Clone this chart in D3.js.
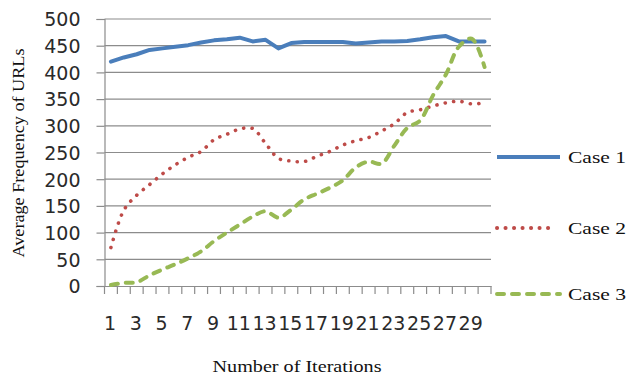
<!DOCTYPE html>
<html>
<head>
<meta charset="utf-8">
<script src="https://cdn.jsdelivr.net/npm/d3@7"></script>
<style>
  body { margin: 0; background: #fff; }
  svg { display: block; }
</style>
</head>
<body>
<script>

// iterations on the x axis
var iterations = [1, 2, 3, 4, 5, 6, 7, 8, 9, 10, 11, 12, 13, 14, 15,
                  16, 17, 18, 19, 20, 21, 22, 23, 24, 25, 26, 27, 28, 29, 30]

// average frequency of URLs
var case1 = [420, 428, 434, 442, 445, 448, 451, 456, 460, 462, 465, 458, 461, 445, 455,
             457, 457, 457, 457, 454, 456, 458, 458, 459, 462, 466, 468, 458, 458, 458]
var case2 = [72, 142, 170, 190, 210, 227, 241, 252, 274, 284, 294, 295, 267, 239, 234,
             233, 243, 252, 264, 272, 278, 290, 304, 325, 330, 337, 343, 346, 341, 343]
var case3 = [2, 6, 7, 20, 31, 41, 52, 65, 84, 100, 115, 130, 140, 128, 143,
             162, 173, 184, 198, 222, 233, 229, 263, 296, 310, 357, 396, 448, 463, 410]

var y_ticks = [0, 50, 100, 150, 200, 250, 300, 350, 400, 450, 500]
var series_names = ["Case 1", "Case 2", "Case 3"]

var svg_width = 630
var svg_height = 374
var grid_color = "#8c8c8c"

var svg = d3.select("body")
    .append("svg")
    .attr("width", svg_width)
    .attr("height", svg_height)

// plot area (window.top is taken, so prefix the names)
var plot_left = 104.5, plot_right = 491, plot_top = 19, plot_bottom = 286

var x_scale = d3.scaleBand()
    .domain(iterations)
    .range([plot_left, plot_right])
    .paddingInner(0)
    .paddingOuter(0)

var y_scale = d3.scaleLinear()
    .domain([0, 500])
    .range([plot_bottom, plot_top])

// horizontal gridlines
svg.append("g")
    .selectAll("line")
    .data(y_ticks.slice(1))
    .enter()
    .append("line")
    .attr("x1", plot_left)
    .attr("x2", plot_right)
    .attr("y1", function(d) { return y_scale(d) })
    .attr("y2", function(d) { return y_scale(d) })
    .attr("stroke", grid_color)
    .attr("stroke-width", 1.2)

// y axis
var y_axis = svg.append("g")
    .attr("transform", "translate(" + plot_left + ",0)")
    .call(d3.axisLeft(y_scale).tickValues(y_ticks).tickSize(8).tickPadding(16))

// x axis, only odd labels are shown
var x_axis = svg.append("g")
    .attr("transform", "translate(0," + plot_bottom + ")")
    .call(d3.axisBottom(x_scale)
      .tickSize(0)
      .tickPadding(44)
      .tickFormat(function(d) { return d % 2 == 1 ? d : "" }))

// tick marks sit between categories
x_axis.selectAll(".sep")
    .data(iterations.concat(["end"]))
    .enter()
    .append("line")
    .attr("x1", function(d, i) { return plot_left + i * x_scale.bandwidth() })
    .attr("x2", function(d, i) { return plot_left + i * x_scale.bandwidth() })
    .attr("y1", 0)
    .attr("y2", 8)
    .attr("stroke", grid_color)
    .attr("stroke-width", 1.2)

svg.selectAll(".domain").attr("stroke", grid_color).attr("stroke-width", 1.2)
y_axis.selectAll(".tick line").attr("stroke", grid_color).attr("stroke-width", 1.2)

svg.selectAll(".tick text")
    .attr("font-family", "DejaVu Sans")
    .attr("font-size", 19)
    .attr("fill", "#2a2a2a")

x_axis.selectAll(".tick text").attr("dy", "0").attr("dx", "-1")
y_axis.selectAll(".tick text").attr("dy", "0.36em")

// line generators
function line_for(curve) {
  return d3.line()
      .x(function(d, i) { return x_scale(iterations[i]) + x_scale.bandwidth() / 2 })
      .y(function(d) { return y_scale(d) })
      .curve(curve)
}

var styles = [
  { color: "#4a7ebb", dash: null },
  { color: "#be4b48", dash: "0.1 8.4" },
  { color: "#98b954", dash: "7 8" }
]

svg.append("path")
    .attr("d", line_for(d3.curveLinear)(case1))
    .attr("fill", "none")
    .attr("stroke", styles[0].color)
    .attr("stroke-width", 4)
    .attr("stroke-linecap", "round")
    .attr("stroke-linejoin", "round")

svg.append("path")
    .attr("d", line_for(d3.curveCatmullRom.alpha(0.5))(case2))
    .attr("fill", "none")
    .attr("stroke", styles[1].color)
    .attr("stroke-width", 3.6)
    .attr("stroke-linecap", "round")
    .attr("stroke-dasharray", styles[1].dash)

svg.append("path")
    .attr("d", line_for(d3.curveCatmullRom.alpha(0.5))(case3))
    .attr("fill", "none")
    .attr("stroke", styles[2].color)
    .attr("stroke-width", 4)
    .attr("stroke-linecap", "round")
    .attr("stroke-dasharray", styles[2].dash)

// legend
var legend_y = [157, 228, 294]

var legend = svg.selectAll(".legend")
    .data(series_names)
    .enter()
    .append("g")
    .attr("transform", function(d, i) { return "translate(0," + legend_y[i] + ")" })

legend.append("line")
    .attr("x1", 497)
    .attr("x2", function(d, i) { return i == 1 ? 553 : 560 })
    .attr("y1", 0)
    .attr("y2", 0)
    .attr("stroke", function(d, i) { return styles[i].color })
    .attr("stroke-width", 4)
    .attr("stroke-linecap", function(d, i) { return i == 0 ? "butt" : "round" })
    .attr("stroke-dasharray", function(d, i) { return styles[i].dash })

legend.append("text")
    .attr("x", 568)
    .attr("y", 6)
    .attr("font-family", "Liberation Serif")
    .attr("font-size", 17)
    .attr("textLength", 58)
    .attr("lengthAdjust", "spacingAndGlyphs")
    .attr("fill", "#111")
    .text(function(d) { return d })

// axis titles
svg.append("text")
    .attr("transform", "translate(24,153) rotate(-90)")
    .attr("text-anchor", "middle")
    .attr("font-family", "Liberation Serif")
    .attr("font-size", 16)
    .attr("textLength", 209)
    .attr("lengthAdjust", "spacingAndGlyphs")
    .attr("fill", "#111")
    .text("Average Frequency of URLs")

svg.append("text")
    .attr("x", 297)
    .attr("y", 372)
    .attr("text-anchor", "middle")
    .attr("font-family", "Liberation Serif")
    .attr("font-size", 17)
    .attr("textLength", 169)
    .attr("lengthAdjust", "spacingAndGlyphs")
    .attr("fill", "#111")
    .text("Number of Iterations")

</script>
</body>
</html>
